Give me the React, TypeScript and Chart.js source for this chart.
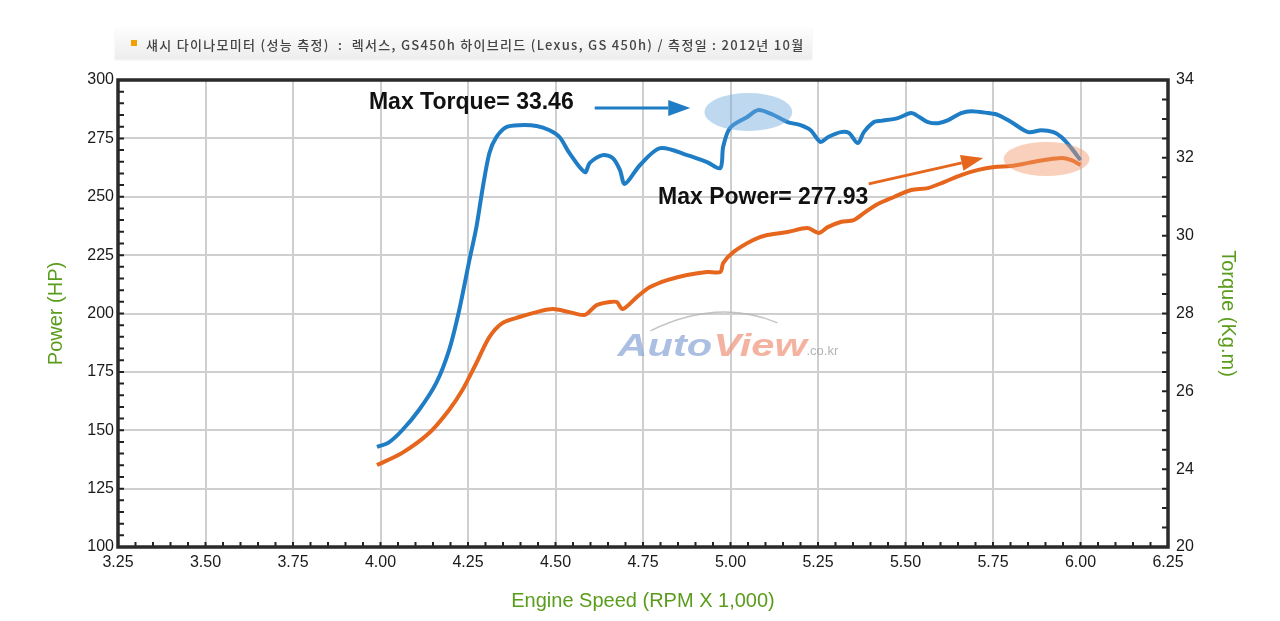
import { useEffect, useRef } from "react";
import { Chart, registerables } from "chart.js";

Chart.register(...registerables);

// torque curve (Kg.m, right axis)
const torqueRpm = [
  3.99, 4.024, 4.062, 4.11, 4.159, 4.196, 4.225, 4.254, 4.274, 4.291, 4.311, 4.331, 4.36, 4.397,
  4.446, 4.483, 4.512, 4.54, 4.584, 4.598, 4.635, 4.664, 4.684, 4.698, 4.741, 4.799, 4.876, 4.933,
  4.971, 4.979, 4.999, 5.048, 5.08, 5.123, 5.163, 5.2, 5.229, 5.257, 5.278, 5.315, 5.338, 5.364,
  5.381, 5.41, 5.43, 5.478, 5.516, 5.539, 5.564, 5.593, 5.622, 5.659, 5.688, 5.736, 5.765, 5.802,
  5.851, 5.888, 5.923, 5.946, 5.974, 6.0,
];
const torqueKgm = [
  24.57, 24.69, 25.0, 25.52, 26.21, 27.06, 28.09, 29.37, 30.22, 31.17, 32.12, 32.53, 32.79, 32.84,
  32.82, 32.71, 32.53, 32.12, 31.63, 31.87, 32.07, 31.99, 31.69, 31.33, 31.81, 32.25, 32.07, 31.89,
  31.74, 32.28, 32.77, 33.05, 33.23, 33.1, 32.92, 32.84, 32.71, 32.41, 32.53, 32.66, 32.64, 32.38,
  32.66, 32.92, 32.95, 33.02, 33.15, 33.05, 32.92, 32.89, 32.97, 33.15, 33.2, 33.15, 33.1, 32.92,
  32.66, 32.71, 32.66, 32.53, 32.25, 31.94,
];

// power curve (HP, left axis)
const powerRpm = [
  3.99, 4.062, 4.139, 4.196, 4.234, 4.274, 4.311, 4.348, 4.397, 4.446, 4.492, 4.54, 4.584, 4.618,
  4.655, 4.675, 4.692, 4.733, 4.77, 4.819, 4.876, 4.933, 4.971, 4.979, 5.008, 5.065, 5.105, 5.163,
  5.22, 5.252, 5.278, 5.315, 5.352, 5.381, 5.421, 5.467, 5.516, 5.564, 5.61, 5.659, 5.708, 5.754,
  5.802, 5.851, 5.897, 5.946, 5.974, 6.0,
];
const powerHp = [
  135.1, 140.3, 148.8, 158.7, 167.2, 178.8, 189.9, 195.9, 198.5, 200.6, 201.9, 200.6, 199.4, 203.6,
  204.9, 204.9, 201.9, 207.1, 211.3, 214.3, 216.5, 217.8, 217.8, 221.6, 226.3, 231.5, 233.6, 234.9,
  236.6, 234.5, 237.0, 239.2, 240.0, 243.0, 246.9, 249.9, 252.9, 253.7, 256.3, 259.3, 261.5, 262.7,
  263.2, 264.5, 265.7, 266.6, 265.7, 263.6,
];

const TITLE =
  "섀시 다이나모미터 (성능 측정)  :  렉서스, GS450h 하이브리드 (Lexus, GS 450h) / 측정일 : 2012년 10월";

const BLUE = "#1f7dc6";
const ORANGE = "#e5661c";
const GREEN = "#5a9c1c";
const FONT = "'Liberation Sans', Arial, sans-serif";

// callouts, placed in data units (rpm, HP)
const notes = [
  { text: "Max Torque= 33.46", x: 3.967, y: 290.1 },
  { text: "Max Power= 277.93", x: 4.793, y: 249.5 },
];
const arrows = [
  { from: [4.612, 288], to: [4.885, 288], color: BLUE },
  { from: [5.395, 255.5], to: [5.722, 266.6], color: ORANGE },
];
const halos = [
  { x: 5.051, y: 286.3, rx: 44, ry: 19, color: "rgba(110,170,220,0.45)" },
  { x: 5.903, y: 266.2, rx: 43, ry: 17, color: "rgba(240,150,105,0.45)" },
];

const framePlugin = {
  id: "frame",
  beforeDatasetsDraw(chart: any) {
    const { ctx, scales } = chart;
    // watermark
    const cx = scales.x.getPixelForValue(5.0);
    const cy = scales.y.getPixelForValue(187);
    const x0 = cx - 113;
    const base = cy + 12;
    ctx.save();
    ctx.globalAlpha = 0.75;
    ctx.strokeStyle = "#b0b0b0";
    ctx.lineWidth = 1.5;
    ctx.beginPath();
    ctx.moveTo(x0 + 33, base - 25);
    ctx.quadraticCurveTo(x0 + 100, base - 58, x0 + 160, base - 33);
    ctx.stroke();

    ctx.font = `italic bold 32px ${FONT}`;
    ctx.textBaseline = "alphabetic";
    ctx.textAlign = "left";
    const sxw = 1.3;
    const autoW = ctx.measureText("Auto").width * sxw;
    const viewW = ctx.measureText("View").width * sxw;
    ctx.save();
    ctx.translate(x0, base);
    ctx.scale(sxw, 1);
    ctx.fillStyle = "#8fa9d8";
    ctx.fillText("Auto", 0, 0);
    ctx.fillStyle = "#f09a82";
    ctx.fillText("View", autoW / sxw + 1, 0);
    ctx.restore();
    ctx.font = `13px ${FONT}`;
    ctx.fillStyle = "#999";
    ctx.fillText(".co.kr", x0 + autoW + viewW + 1, base - 1);
    ctx.restore();
  },
  afterDatasetsDraw(chart: any) {
    const { ctx, chartArea: a, scales } = chart;
    const sx = scales.x;
    const sy = scales.y;
    const sr = scales.y1;
    ctx.save();

    halos.forEach((h) => {
      ctx.fillStyle = h.color;
      ctx.beginPath();
      ctx.ellipse(sx.getPixelForValue(h.x), sy.getPixelForValue(h.y), h.rx, h.ry, 0, 0, Math.PI * 2);
      ctx.fill();
    });

    arrows.forEach((ar) => {
      const x1 = sx.getPixelForValue(ar.from[0]);
      const y1 = sy.getPixelForValue(ar.from[1]);
      const x2 = sx.getPixelForValue(ar.to[0]);
      const y2 = sy.getPixelForValue(ar.to[1]);
      const ang = Math.atan2(y2 - y1, x2 - x1);
      const hl = 22;
      const hw = 8;
      const bx = x2 - hl * Math.cos(ang);
      const by = y2 - hl * Math.sin(ang);
      ctx.strokeStyle = ar.color;
      ctx.fillStyle = ar.color;
      ctx.lineWidth = 3;
      ctx.beginPath();
      ctx.moveTo(x1, y1);
      ctx.lineTo(bx, by);
      ctx.stroke();
      ctx.beginPath();
      ctx.moveTo(x2, y2);
      ctx.lineTo(bx + hw * Math.sin(ang), by - hw * Math.cos(ang));
      ctx.lineTo(bx - hw * Math.sin(ang), by + hw * Math.cos(ang));
      ctx.closePath();
      ctx.fill();
    });

    ctx.font = `bold 23px ${FONT}`;
    ctx.fillStyle = "#111";
    ctx.textAlign = "left";
    ctx.textBaseline = "middle";
    notes.forEach((n) => ctx.fillText(n.text, sx.getPixelForValue(n.x), sy.getPixelForValue(n.y)));

    // inward minor ticks
    ctx.strokeStyle = "#222";
    ctx.lineWidth = 2;
    ctx.beginPath();
    for (let v = 3.25; v <= 6.2501; v += 0.05) {
      const px = sx.getPixelForValue(v);
      ctx.moveTo(px, a.bottom);
      ctx.lineTo(px, a.bottom - 5);
    }
    for (let v = 100; v <= 300; v += 5) {
      const py = sy.getPixelForValue(v);
      ctx.moveTo(a.left, py);
      ctx.lineTo(a.left + 6, py);
    }
    for (let v = 22; v <= 34.001; v += 0.5) {
      const py = sr.getPixelForValue(v);
      ctx.moveTo(a.right, py);
      ctx.lineTo(a.right - 6, py);
    }
    ctx.stroke();

    ctx.strokeStyle = "#2a2a2a";
    ctx.lineWidth = 3.5;
    ctx.strokeRect(a.left, a.top, a.right - a.left, a.bottom - a.top);
    ctx.restore();
  },
};

export default function App() {
  const canvasRef = useRef<HTMLCanvasElement>(null);
  const chartRef = useRef<Chart | null>(null);

  useEffect(() => {
    if (!canvasRef.current) return;
    if (chartRef.current) chartRef.current.destroy();

    const tickFont = { family: FONT, size: 16 };
    const titleFont = { family: FONT, size: 20 };

    chartRef.current = new Chart(canvasRef.current, {
      type: "line",
      data: {
        datasets: [
          {
            label: "Torque (Kg.m)",
            data: torqueRpm.map((x, i) => ({ x, y: torqueKgm[i] })),
            yAxisID: "y1",
            borderColor: BLUE,
            borderWidth: 4,
            pointRadius: 0,
            tension: 0.3,
          },
          {
            label: "Power (HP)",
            data: powerRpm.map((x, i) => ({ x, y: powerHp[i] })),
            yAxisID: "y",
            borderColor: ORANGE,
            borderWidth: 4,
            pointRadius: 0,
            tension: 0.3,
          },
        ],
      },
      options: {
        responsive: false,
        animation: false,
        layout: { padding: { left: 40, right: 36, top: 80, bottom: 4 } },
        plugins: { legend: { display: false }, tooltip: { enabled: false } },
        scales: {
          x: {
            type: "linear",
            min: 3.25,
            max: 6.25,
            ticks: {
              stepSize: 0.25,
              color: "#1a1a1a",
              font: tickFont,
              padding: 6,
              maxRotation: 0,
              callback: (v: any) => Number(v).toFixed(2),
            },
            grid: { color: "#cfcfcf", lineWidth: 2, drawTicks: false },
            border: { display: false },
            title: { display: true, text: "Engine Speed (RPM X 1,000)", color: GREEN, font: titleFont },
            afterFit: (s: any) => {
              s.height = 70;
            },
          },
          y: {
            position: "left",
            min: 100,
            max: 300,
            ticks: { stepSize: 25, color: "#1a1a1a", font: tickFont, padding: 4 },
            grid: { color: "#cfcfcf", lineWidth: 2, drawTicks: false },
            border: { display: false },
            title: { display: true, text: "Power (HP)", color: GREEN, font: titleFont },
            afterFit: (s: any) => {
              s.width = 78;
            },
          },
          y1: {
            position: "right",
            min: 22,
            max: 34,
            ticks: {
              stepSize: 2,
              color: "#1a1a1a",
              font: tickFont,
              padding: 8,
              // the source sheet labels its bottom edge "20"
              callback: (v: any) => (v === 22 ? "20" : String(v)),
            },
            grid: { display: false, drawTicks: false },
            border: { display: false },
            title: { display: true, text: "Torque (Kg.m)", color: GREEN, font: titleFont },
            afterFit: (s: any) => {
              s.width = 76;
            },
          },
        },
      },
      plugins: [framePlugin],
    });

    return () => {
      chartRef.current?.destroy();
      chartRef.current = null;
    };
  }, []);

  return (
    <div style={{ position: "absolute", left: 0, top: 0, width: 1280, height: 621, background: "#fff" }}>
      <div
        style={{
          position: "absolute",
          left: 115,
          top: 28,
          width: 697,
          height: 31,
          background: "linear-gradient(#fdfdfd, #ededed)",
          boxShadow: "0 1px 2px rgba(0,0,0,0.08)",
        }}
      >
        <div style={{ position: "absolute", left: 16, top: 12, width: 6, height: 6, background: "#f2a100" }} />
        <div
          style={{
            position: "absolute",
            left: 31,
            top: 7,
            fontFamily: "'Noto Sans CJK KR', 'Noto Sans', sans-serif",
            fontSize: 13,
            fontWeight: 500,
            letterSpacing: 1.3,
            color: "#444",
            whiteSpace: "pre",
          }}
        >
          {TITLE}
        </div>
      </div>
      <canvas ref={canvasRef} width={1280} height={621} style={{ display: "block" }} />
    </div>
  );
}
